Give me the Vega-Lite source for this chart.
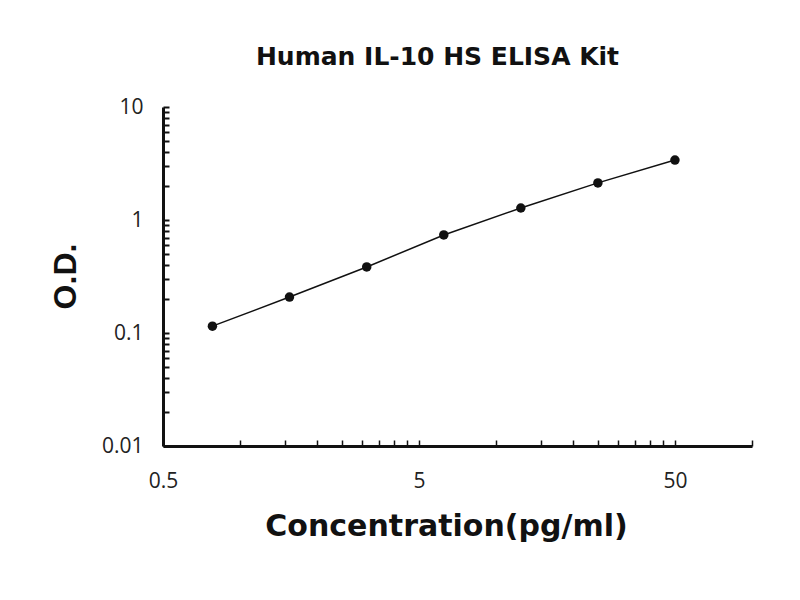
{
  "$schema": "https://vega.github.io/schema/vega-lite/v6.json",
  "autosize": "none",
  "width": 589,
  "height": 339,
  "padding": {"left": 163, "top": 107, "right": 48, "bottom": 154},
  "background": "white",
  "title": {
    "text": "Human IL-10 HS ELISA Kit",
    "font": "DejaVu Sans",
    "fontSize": 25,
    "fontWeight": "bold",
    "color": "#111",
    "anchor": "middle",
    "frame": "group",
    "dx": -20,
    "offset": 26
  },
  "data": {
    "values": [
      {"conc": 0.78, "od": 0.115},
      {"conc": 1.56, "od": 0.208},
      {"conc": 3.125, "od": 0.384},
      {"conc": 6.25, "od": 0.737},
      {"conc": 12.5, "od": 1.277},
      {"conc": 25, "od": 2.13},
      {"conc": 50, "od": 3.39}
    ]
  },
  "layer": [
    {
      "mark": {"type": "line", "color": "#111", "strokeWidth": 1.5}
    },
    {
      "mark": {"type": "circle", "color": "#111", "opacity": 1, "size": 90}
    }
  ],
  "encoding": {
    "x": {
      "field": "conc",
      "type": "quantitative",
      "scale": {"type": "log", "domain": [0.5, 100], "nice": false},
      "axis": {
        "title": "Concentration(pg/ml)",
        "titleFont": "DejaVu Sans",
        "titleFontSize": 30,
        "titleFontWeight": "bold",
        "titleColor": "#111",
        "titleX": 283,
        "titleY": 89,
        "titleBaseline": "alphabetic",
        "values": [0.5, 1, 1.5, 2, 2.5, 3, 3.5, 4, 4.5, 5, 10, 15, 20, 25, 30, 35, 40, 45, 50, 100],
        "labelExpr": "datum.value == 0.5 || datum.value == 5 || datum.value == 50 ? datum.label : ''",
        "labelFont": "Open Sans",
        "labelFontSize": 21,
        "labelColor": "#222",
        "labelPadding": 30,
        "labelFlush": false,
        "labelOverlap": false,
        "tickSize": -6,
        "tickWidth": 1.5,
        "tickColor": "#111",
        "domainWidth": 3,
        "domainColor": "#111",
        "grid": false
      }
    },
    "y": {
      "field": "od",
      "type": "quantitative",
      "scale": {"type": "log", "domain": [0.01, 10], "nice": false},
      "axis": {
        "title": "O.D.",
        "titleFont": "Liberation Sans",
        "titleFontSize": 32,
        "titleFontWeight": "bold",
        "titleColor": "#111",
        "titleX": -98,
        "titleY": 169,
        "titleBaseline": "middle",
        "titleAngle": -90,
        "values": [0.01, 0.02, 0.03, 0.04, 0.05, 0.06, 0.07, 0.08, 0.09, 0.1, 0.2, 0.3, 0.4, 0.5, 0.6, 0.7, 0.8, 0.9, 1, 2, 3, 4, 5, 6, 7, 8, 9, 10],
        "labelExpr": "datum.value == 0.01 || datum.value == 0.1 || datum.value == 1 || datum.value == 10 ? datum.label : ''",
        "format": "~g",
        "labelFont": "Open Sans",
        "labelFontSize": 21,
        "labelColor": "#222",
        "labelPadding": 26,
        "labelFlush": false,
        "labelOverlap": false,
        "tickSize": -6,
        "tickWidth": 2,
        "tickColor": "#111",
        "domainWidth": 3,
        "domainColor": "#111",
        "grid": false
      }
    }
  },
  "config": {
    "view": {"stroke": null}
  }
}
